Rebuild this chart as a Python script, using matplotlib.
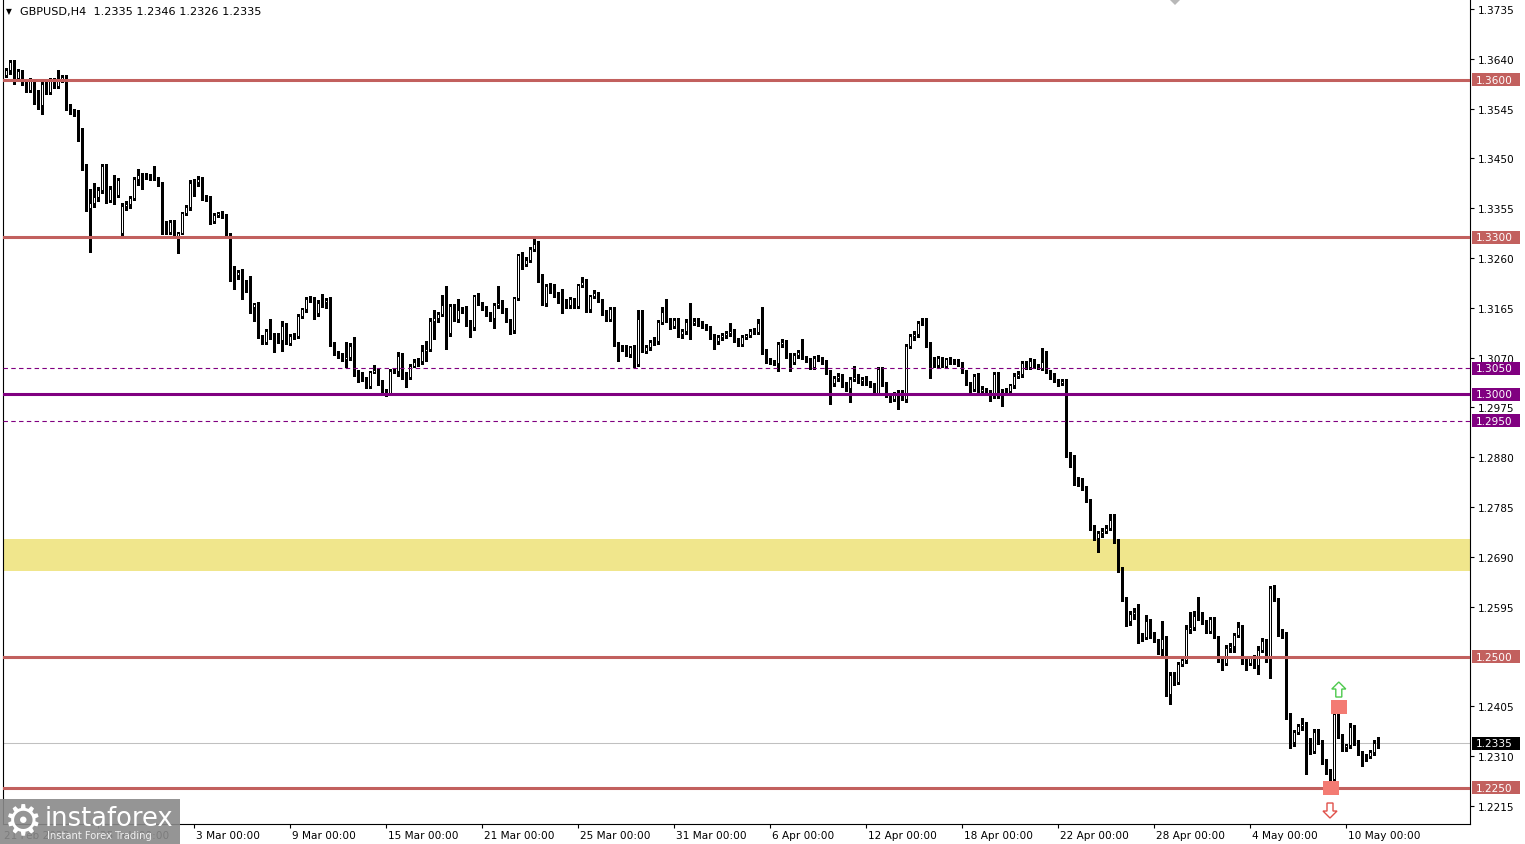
import matplotlib
matplotlib.use('Agg')
import matplotlib.pyplot as plt
from matplotlib.patches import Rectangle, Polygon
from matplotlib.collections import LineCollection
from matplotlib.transforms import blended_transform_factory as blend

# ---------------- data (prices in pips, 1e-4) ----------------
opens = [
13600,13610,13618,13634,13603,13616,13595,13580,13598,13576,
13551,13592,13576,13598,13589,13601,13605,13546,13541,13535,
13495,13433,13355,13365,13376,13389,13436,13371,13392,13380,
13308,13360,13363,13374,13411,13418,13416,13414,13417,13411,
13401,13325,13310,13328,13303,13308,13346,13357,13403,13405,
13410,13376,13373,13331,13342,13345,13340,13303,13230,13227,
13233,13213,13198,13166,13172,13111,13100,13121,13109,13105,
13104,13131,13098,13112,13111,13150,13162,13181,13182,13156,
13174,13177,13180,13094,13078,13075,13068,13071,13093,13041,
13038,13030,13016,13042,13047,13023,13003,13001,13045,13044,
13074,13038,13033,13055,13061,13064,13082,13087,13140,13145,
13153,13170,13117,13168,13144,13161,13163,13137,13128,13187,
13174,13164,13153,13145,13170,13175,13160,13141,13123,13183,
13266,13249,13256,13278,13287,13226,13174,13206,13198,13191,
13182,13174,13170,13181,13168,13208,13215,13162,13187,13193,
13179,13157,13144,13163,13096,13088,13090,13077,13090,13058,
13144,13083,13091,13099,13101,13139,13158,13142,13130,13141,
13115,13120,13139,13137,13140,13136,13130,13126,13111,13102,
13110,13113,13117,13120,13104,13097,13110,13114,13120,13119,
13137,13083,13064,13062,13060,13096,13099,13074,13062,13075,
13081,13071,13067,13053,13070,13069,13062,13042,13022,13032,
13035,13020,13013,13029,13034,13026,13029,13022,13018,13003,
13048,13020,12999,12991,12998,13004,12991,13093,13111,13115,
13137,13139,13096,13068,13056,13069,13055,13067,13062,13064,
13058,13042,13020,13011,13036,13007,13010,13004,13001,13039,
12996,13005,13007,13017,13036,13039,13060,13053,13064,13054,
13050,13061,13043,13036,13026,13022,13026,12886,12880,12834,
12836,12823,12797,12746,12727,12735,12740,12746,12761,12721,
12667,12610,12568,12581,12584,12541,12537,12568,12543,12530,
12514,12533,12428,12465,12452,12486,12494,12552,12556,12577,
12580,12566,12549,12572,12537,12495,12488,12517,12520,12541,
12556,12497,12488,12498,12483,12513,12530,12495,12630,12608,
12546,12543,12387,12337,12357,12367,12371,12340,12320,12357,
12336,12301,12282,12266,12390,12349,12327,12331,12365,12336,
12317,12310,12311,12317,12335]

highs = [
13614,13622,13638,13637,13620,13618,13600,13603,13602,13580,
13596,13600,13603,13603,13619,13610,13610,13553,13545,13542,
13509,13440,13392,13404,13395,13440,13440,13398,13418,13413,
13365,13368,13378,13415,13430,13422,13422,13420,13436,13415,
13405,13330,13332,13333,13310,13348,13362,13408,13410,13416,
13414,13380,13378,13346,13348,13350,13344,13308,13245,13238,
13240,13218,13226,13175,13176,13114,13125,13144,13118,13118,
13140,13136,13116,13118,13153,13165,13185,13188,13186,13180,
13191,13183,13185,13100,13082,13079,13099,13098,13110,13047,
13042,13034,13045,13056,13050,13027,13010,13048,13050,13080,
13078,13042,13058,13068,13070,13095,13102,13145,13160,13158,
13189,13207,13172,13172,13182,13166,13168,13142,13190,13193,
13176,13168,13157,13175,13207,13180,13164,13144,13186,13268,
13272,13262,13282,13296,13292,13230,13210,13212,13210,13195,
13201,13182,13186,13184,13210,13223,13220,13190,13200,13196,
13182,13160,13166,13166,13100,13095,13094,13092,13094,13160,
13160,13095,13103,13109,13142,13166,13182,13146,13145,13145,
13124,13143,13174,13145,13146,13140,13134,13130,13115,13114,
13118,13120,13137,13124,13108,13114,13116,13124,13126,13144,
13166,13087,13070,13066,13099,13106,13104,13078,13078,13085,
13106,13074,13070,13073,13076,13072,13066,13046,13036,13040,
13038,13024,13033,13055,13038,13034,13036,13025,13022,13052,
13052,13024,13002,13004,13008,13008,13096,13115,13120,13140,
13145,13146,13100,13072,13074,13072,13070,13072,13068,13068,
13062,13046,13024,13038,13040,13016,13013,13008,13043,13043,
13010,13012,13020,13040,13045,13064,13064,13070,13068,13057,
13088,13083,13047,13040,13030,13030,13030,12890,12884,12842,
12840,12826,12800,12750,12740,12745,12750,12772,12772,12724,
12670,12614,12586,12592,12600,12545,12580,12572,12547,12534,
12568,12540,12470,12470,12490,12500,12560,12584,12586,12613,
12585,12570,12575,12576,12540,12500,12522,12525,12545,12566,
12560,12500,12500,12502,12520,12535,12534,12635,12637,12612,
12552,12547,12393,12360,12372,12382,12375,12345,12362,12362,
12340,12304,12286,12406,12394,12352,12334,12374,12369,12340,
12320,12315,12322,12340,12346]

lows = [
13588,13606,13612,13592,13598,13590,13576,13576,13554,13545,
13535,13572,13572,13585,13584,13596,13542,13535,13530,13484,
13428,13350,13271,13358,13368,13385,13365,13366,13363,13376,
13300,13352,13355,13370,13400,13392,13410,13408,13408,13398,
13305,13305,13306,13300,13270,13305,13342,13352,13378,13398,
13370,13368,13325,13326,13338,13336,13300,13216,13201,13220,
13182,13195,13156,13140,13108,13096,13096,13105,13080,13098,
13083,13096,13094,13106,13108,13146,13158,13176,13144,13150,
13166,13164,13092,13075,13070,13064,13052,13066,13036,13024,
13026,13012,13012,13040,13018,12998,12996,12998,13040,13036,
13030,13014,13030,13052,13055,13058,13064,13082,13105,13138,
13149,13087,13112,13140,13139,13155,13130,13109,13122,13170,
13160,13150,13140,13126,13165,13156,13138,13116,13118,13180,
13240,13244,13252,13274,13215,13170,13168,13193,13185,13174,
13156,13165,13165,13164,13164,13204,13158,13158,13183,13176,
13152,13140,13140,13092,13064,13082,13074,13072,13052,13054,
13080,13078,13085,13094,13097,13135,13138,13125,13126,13110,
13108,13116,13106,13132,13131,13126,13122,13106,13087,13097,
13104,13107,13112,13100,13092,13093,13106,13110,13116,13115,
13077,13060,13058,13056,13045,13090,13070,13045,13058,13070,
13067,13062,13048,13048,13064,13058,13038,12982,13016,13026,
13014,13006,12985,13025,13022,13018,13018,13014,12998,12998,
13016,12995,12985,12988,12972,12990,12985,13088,13104,13110,
13132,13090,13032,13052,13052,13052,13052,13058,13058,13055,
13040,13017,13004,13006,13004,13004,13000,12988,12994,12994,
12978,13000,13002,13012,13031,13034,13048,13048,13050,13048,
13046,13040,13030,13024,13016,13018,12880,12861,12828,12826,
12817,12795,12742,12722,12699,12728,12736,12742,12716,12662,
12606,12558,12560,12572,12526,12530,12533,12536,12528,12505,
12500,12425,12409,12446,12448,12482,12488,12545,12550,12570,
12562,12545,12544,12535,12490,12475,12484,12508,12508,12538,
12485,12474,12484,12478,12467,12509,12490,12460,12605,12540,
12535,12380,12325,12330,12352,12360,12276,12315,12316,12333,
12295,12276,12261,12259,12345,12320,12320,12326,12332,12312,
12292,12300,12306,12312,12326]

closes = [
13610,13618,13634,13603,13616,13595,13580,13598,13576,13551,
13592,13576,13598,13589,13601,13605,13546,13541,13535,13495,
13433,13355,13365,13376,13389,13436,13371,13392,13380,13408,
13360,13363,13374,13411,13418,13416,13414,13417,13411,13401,
13325,13310,13328,13303,13308,13346,13357,13403,13405,13410,
13376,13373,13331,13342,13345,13340,13303,13230,13227,13233,
13213,13198,13166,13172,13111,13100,13121,13109,13105,13104,
13131,13098,13112,13111,13150,13162,13181,13182,13156,13174,
13177,13180,13094,13078,13075,13068,13071,13093,13041,13038,
13030,13016,13042,13047,13023,13003,13001,13045,13044,13074,
13038,13033,13055,13061,13064,13082,13087,13140,13145,13153,
13170,13117,13168,13144,13161,13163,13137,13128,13187,13174,
13164,13153,13145,13170,13175,13160,13141,13123,13183,13266,
13249,13256,13278,13287,13226,13174,13206,13198,13191,13182,
13174,13170,13181,13168,13208,13215,13162,13187,13193,13179,
13157,13144,13163,13096,13088,13090,13077,13090,13058,13144,
13083,13091,13099,13101,13139,13158,13142,13130,13141,13115,
13120,13139,13137,13140,13136,13130,13126,13111,13102,13110,
13113,13117,13120,13104,13097,13110,13114,13120,13119,13137,
13083,13064,13062,13060,13096,13099,13074,13062,13075,13081,
13071,13067,13053,13070,13069,13062,13042,13022,13032,13035,
13020,13013,13029,13034,13026,13029,13022,13018,13003,13048,
13020,12999,12991,12998,13004,12991,13093,13111,13115,13137,
13139,13096,13068,13056,13069,13055,13067,13062,13064,13058,
13042,13020,13011,13036,13007,13010,13004,13001,13039,12996,
13005,13007,13017,13036,13039,13060,13053,13064,13054,13050,
13061,13043,13036,13026,13022,13026,12886,12880,12834,12836,
12823,12797,12746,12727,12735,12740,12746,12761,12721,12667,
12610,12568,12581,12584,12541,12537,12568,12543,12530,12514,
12533,12428,12465,12452,12486,12494,12552,12556,12577,12580,
12566,12549,12572,12537,12495,12488,12517,12520,12541,12556,
12497,12488,12498,12483,12513,12530,12495,12630,12608,12546,
12543,12387,12337,12357,12367,12371,12340,12320,12357,12336,
12301,12282,12266,12390,12349,12327,12331,12365,12336,12317,
12310,12311,12317,12335,12335]

date_labels = ['21 Feb 2022', '25 Feb 00:00', '3 Mar 00:00', '9 Mar 00:00', '15 Mar 00:00',
               '21 Mar 00:00', '25 Mar 00:00', '31 Mar 00:00', '6 Apr 00:00', '12 Apr 00:00',
               '18 Apr 00:00', '22 Apr 00:00', '28 Apr 00:00', '4 May 00:00', '10 May 00:00']
date_bars = [0, 24, 48, 72, 96, 120, 144, 168, 192, 216, 240, 264, 288, 312, 336]

price_ticks = [1.3735, 1.3640, 1.3545, 1.3450, 1.3355, 1.3260, 1.3165, 1.3070, 1.2975,
               1.2880, 1.2785, 1.2690, 1.2595, 1.2405, 1.2310, 1.2215]

red_levels = [1.3600, 1.3300, 1.2500, 1.2250]
main_level = 1.3000
dashed_levels = [1.3050, 1.2950]
last_price = 1.2335
zone_low, zone_high = 1.2663, 1.2724

level_tags = [(1.3600, 'red'), (1.3300, 'red'), (1.3050, 'purple'), (1.3000, 'purple'),
              (1.2950, 'purple'), (1.2500, 'red'), (1.2335, 'black'), (1.2250, 'red')]

title_text = 'GBPUSD,H4  1.2335 1.2346 1.2326 1.2335'

# signal markers: (bar, price)
up_arrow_at = (334.2, 1.24514)
down_arrow_at = (332.0, 1.21920)
box_high_at = (334.25, 1.24036)
box_low_at = (332.25, 1.22491)

# ---------------- figure ----------------
W, H = 1525, 845
RED = '#c2605e'
PURPLE = '#800080'
TAGC = {'red': RED, 'purple': PURPLE, 'black': '#000000'}
plt.rcParams['font.family'] = ['DejaVu Sans']

fig = plt.figure(figsize=(W / 100, H / 100), dpi=100)
fig.patch.set_facecolor('white')
ax = fig.add_axes([3 / W, 20 / H, 1467 / W, 825 / H])
ax.set_facecolor('white')

X0, X1 = 0.25, 367.0
Y_TOP, Y_BOT = 1.37541, 1.21806
ax.set_xlim(X0, X1)
ax.set_ylim(Y_BOT, Y_TOP)
PX_X = (X1 - X0) / 1467.0
PX_Y = (Y_TOP - Y_BOT) / 825.0

n = min(len(opens), len(highs), len(lows), len(closes))
O = [v / 1e4 for v in opens[:n]]
Hh = [v / 1e4 for v in highs[:n]]
L = [v / 1e4 for v in lows[:n]]
C = [v / 1e4 for v in closes[:n]]

# zone
ax.axhspan(zone_low, zone_high, color='#f0e68c', lw=0, zorder=1)
ax.axhline(last_price, color='#c0c0c0', lw=0.75, zorder=1.5)

# candles
segs = []
for i in range(n):
    top = max(Hh[i], O[i], C[i])
    bot = min(L[i], O[i], C[i])
    segs.append([(i, bot), (i, top)])
ax.add_collection(LineCollection(segs, colors='black', linewidths=0.75, zorder=3,
                                 antialiaseds=False))
bw = 0.72
for i in range(n):
    lo, hi = min(O[i], C[i]), max(O[i], C[i])
    fc = 'white' if C[i] >= O[i] else 'black'
    ax.add_patch(Rectangle((i - bw / 2, lo), bw, hi - lo, facecolor=fc, edgecolor='black',
                           linewidth=0.7, zorder=3.5, antialiased=False))

# levels
for lv in red_levels:
    ax.axhline(lv, color=RED, lw=2.2, zorder=4)
ax.axhline(main_level, color=PURPLE, lw=2.2, zorder=4)
for lv in dashed_levels:
    ax.axhline(lv, color=PURPLE, lw=0.8, ls=(0, (4, 3)), zorder=4)

# signal boxes and arrows
def add_box(center, wpx, hpx):
    cx, cy = center
    ax.add_patch(Rectangle((cx - wpx / 2 * PX_X, cy - hpx / 2 * PX_Y), wpx * PX_X, hpx * PX_Y,
                           facecolor='#f37b73', edgecolor='none', zorder=5))

def add_arrow(tip, color, up=True):
    tx, ty = tip
    s = -1 if up else 1
    pts_px = [(0, 0), (7, 7), (3, 7), (3, 15), (-3, 15), (-3, 7), (-7, 7)]
    pts = [(tx + px * PX_X, ty + s * py * PX_Y) for px, py in pts_px]
    ax.add_patch(Polygon(pts, closed=True, facecolor='white', edgecolor=color,
                         linewidth=1.0, zorder=5))

add_box(box_high_at, 16, 14)
add_box(box_low_at, 16, 14)
add_arrow(up_arrow_at, '#4cc94c', up=True)
add_arrow(down_arrow_at, '#e0504a', up=False)

# spines
for s in ['left', 'right', 'bottom']:
    ax.spines[s].set_color('black')
    ax.spines[s].set_linewidth(0.8)
ax.spines['top'].set_visible(False)

# right price axis
ax.yaxis.tick_right()
ax.set_yticks(price_ticks)
ax.set_yticklabels([f'{t:.4f}' for t in price_ticks])
ax.tick_params(axis='y', direction='out', length=3, width=0.8, pad=2.5, labelsize=7.6,
               colors='black')

# bottom time axis: tick marks, manual labels
ax.set_xticks(date_bars[1:])
ax.set_xticklabels([])
ax.tick_params(axis='x', direction='out', length=3, width=0.8)
tdx = blend(ax.transData, fig.transFigure)
for b, lab in zip(date_bars, date_labels):
    ax.text(b + 0.5, 9 / H, lab, transform=tdx, fontsize=7.6, ha='left', va='center',
            clip_on=False)

# level tags on price axis
tfy = blend(fig.transFigure, ax.transData)
for lv, cname in level_tags:
    ax.add_patch(Rectangle((1472 / W, lv - 6.5 * PX_Y), 48 / W, 13 * PX_Y, transform=tfy,
                           facecolor=TAGC[cname], edgecolor='none', clip_on=False, zorder=6))
    ax.text(1476 / W, lv, f'{lv:.4f}', transform=tfy, color='white', fontsize=7.6,
            ha='left', va='center', clip_on=False, zorder=7)

# title
fig.text(6 / W, 1 - 12 / H, '\u25BC', fontsize=5.5, ha='left', va='center')
fig.text(20 / W, 1 - 12 / H, title_text, fontsize=8.1, ha='left', va='center')

# chart-shift marker
fig.add_artist(Polygon([(1169 / W, 1.0), (1181 / W, 1.0), (1175 / W, 1 - 6 / H)],
                       closed=True, transform=fig.transFigure, facecolor='#b8b8b8',
                       edgecolor='none'))

# watermark logo
fig.add_artist(Rectangle((0, 0), 180 / W, 45 / H, transform=fig.transFigure,
                         facecolor='#8a8a8a', edgecolor='none', alpha=0.9, zorder=10))
fig.text(23 / W, 23 / H, '\u2699', fontsize=31, color='white', ha='center', va='center',
         zorder=11)
fig.text(45 / W, 26 / H, 'instaforex', fontsize=18.5, color='white', ha='left', va='center',
         zorder=11)
fig.text(47 / W, 9 / H, 'Instant Forex Trading', fontsize=7.2, color='#f0f0f0', ha='left',
         va='center', zorder=11)

fig.savefig('out.png', dpi=100, facecolor='white')
